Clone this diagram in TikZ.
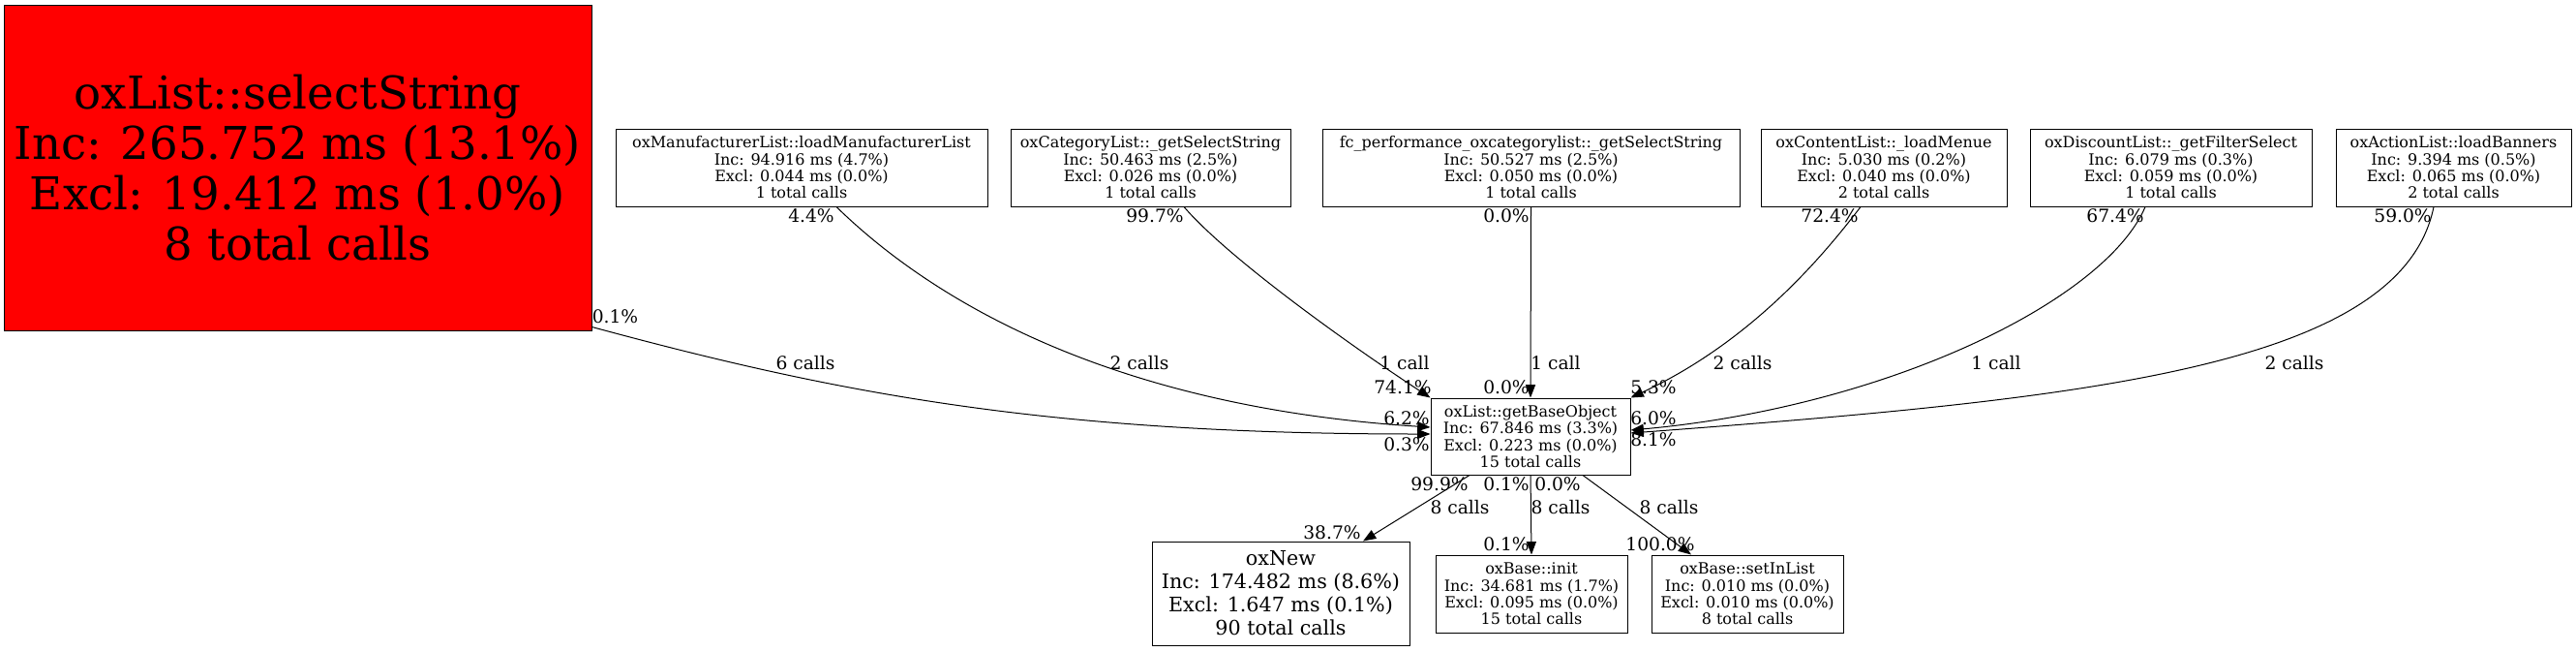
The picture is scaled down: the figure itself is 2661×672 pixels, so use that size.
\documentclass[tikz,border=0pt]{standalone}
\usepackage{fontspec}
\setmainfont{DejaVu Serif}
\usetikzlibrary{arrows.meta,calc}

\tikzset{
  func/.style={draw=black, line width=0.75pt, inner sep=1pt, align=center,
    font=\fontsize{12}{13}\selectfont, minimum height=60pt},
  calls/.style={draw=black, line width=0.75pt, -{Triangle[length=10pt,width=7.5pt]}},
  lbl/.style={inner sep=0pt, anchor=base, font=\fontsize{14}{16}\selectfont},
}

\begin{document}
\begin{tikzpicture}[x=0.75pt, y=-0.75pt]
            \useasboundingbox (0,0) rectangle (2661,672);
            % functions
            \node[func, fill=red, minimum width=455.25pt, minimum height=252pt,
                  font=\fontsize{35}{39}\selectfont] (sel) at (307.5,173)
                {oxList::selectString\\Inc: 265.752 ms (13.1\%)\\Excl: 19.412 ms (1.0\%)\\8 total calls};
            \node[func, minimum width=288pt] (man) at (828,173)
                {oxManufacturerList::loadManufacturerList\\Inc: 94.916 ms (4.7\%)\\Excl: 0.044 ms (0.0\%)\\1 total calls};
            \node[func, minimum width=216.75pt] (cat) at (1188.5,173)
                {oxCategoryList::\_getSelectString\\Inc: 50.463 ms (2.5\%)\\Excl: 0.026 ms (0.0\%)\\1 total calls};
            \node[func, minimum width=323.25pt] (fc) at (1581.5,173)
                {fc\_performance\_oxcategorylist::\_getSelectString\\Inc: 50.527 ms (2.5\%)\\Excl: 0.050 ms (0.0\%)\\1 total calls};
            \node[func, minimum width=190.5pt] (cont) at (1946,173)
                {oxContentList::\_loadMenue\\Inc: 5.030 ms (0.2\%)\\Excl: 0.040 ms (0.0\%)\\2 total calls};
            \node[func, minimum width=218.25pt] (disc) at (2242.5,173)
                {oxDiscountList::\_getFilterSelect\\Inc: 6.079 ms (0.3\%)\\Excl: 0.059 ms (0.0\%)\\1 total calls};
            \node[func, minimum width=182.25pt] (act) at (2534.5,173)
                {oxActionList::loadBanners\\Inc: 9.394 ms (0.5\%)\\Excl: 0.065 ms (0.0\%)\\2 total calls};
            \node[func, minimum width=154.5pt, minimum height=59.25pt] (gbo) at (1581,450.5)
                {oxList::getBaseObject\\Inc: 67.846 ms (3.3\%)\\Excl: 0.223 ms (0.0\%)\\15 total calls};
            \node[func, minimum width=199.5pt, minimum height=80.25pt,
                  font=\fontsize{15.5}{18}\selectfont] (new) at (1323,612.5)
                {oxNew\\Inc: 174.482 ms (8.6\%)\\Excl: 1.647 ms (0.1\%)\\90 total calls};
            \node[func, minimum width=148.5pt] (init) at (1582,613)
                {oxBase::init\\Inc: 34.681 ms (1.7\%)\\Excl: 0.095 ms (0.0\%)\\15 total calls};
            \node[func, minimum width=148.5pt] (set) at (1805,613)
                {oxBase::setInList\\Inc: 0.010 ms (0.0\%)\\Excl: 0.010 ms (0.0\%)\\8 total calls};

            % calls into getBaseObject
            \draw[calls] ($(sel.south east)+(0,-4)$) .. controls (861,405) and (1078,448) .. ($(gbo.west)+(0,-2.5)$);
            \draw[calls] ($(man.south)+(36,0)$) .. controls (965,312) and (1150,420) .. ($(gbo.west)+(0,-9.5)$);
            \draw[calls] ($(cat.south)+(34.5,0)$) .. controls (1270,268) and (1400,360) .. (gbo.north west);
            \draw[calls] (fc.south) -- (gbo.north);
            \draw[calls] ($(cont.south)+(-24,0)$) .. controls (1890,255) and (1815,350) .. (gbo.north east);
            \draw[calls] ($(disc.south)+(-26.5,0)$) .. controls (2175,310) and (1950,420) .. ($(gbo.east)+(0,-6.5)$);
            \draw[calls] ($(act.south)+(-20.5,0)$) .. controls (2480,380) and (2150,412) .. ($(gbo.east)+(0,-3.5)$);
            % calls out of getBaseObject
            \draw[calls] ($(gbo.south)+(-63,0)$) -- ($(new.north)+(85,0)$);
            \draw[calls] (gbo.south) -- (init.north);
            \draw[calls] ($(gbo.south)+(54,0)$) -- ($(set.north)+(-58,0)$);

            % call counts and shares
            \begin{scope}[every node/.style={lbl}]
                \node (l1t) at (635.5,333) {0.1\%};
                \node (l1m) at (832,381) {6 calls};
                \node (l1h) at (1453,465) {0.3\%};
                \node (l2t) at (838,229) {4.4\%};
                \node (l2m) at (1177,381) {2 calls};
                \node (l2h) at (1453,438) {6.2\%};
                \node (l3t) at (1193,229) {99.7\%};
                \node (l3m) at (1451,381) {1 call};
                \node (l3h) at (1449,406) {74.1\%};
                \node (l4t) at (1556,229) {0.0\%};
                \node (l4m) at (1607,381) {1 call};
                \node (l4h) at (1556,406) {0.0\%};
                \node (l5t) at (1890,229) {72.4\%};
                \node (l5m) at (1800,381) {2 calls};
                \node (l5h) at (1708,406) {5.3\%};
                \node (l6t) at (2185,229) {67.4\%};
                \node (l6m) at (2062,381) {1 call};
                \node (l6h) at (1708,438) {6.0\%};
                \node (l7t) at (2482,229) {59.0\%};
                \node (l7m) at (2370,381) {2 calls};
                \node (l7h) at (1708,460) {8.1\%};
                \node (l8t) at (1487,506) {99.9\%};
                \node (l8m) at (1508,530) {8 calls};
                \node (l8h) at (1376,556) {38.7\%};
                \node (l9t) at (1556,506) {0.1\%};
                \node (l9m) at (1612,530) {8 calls};
                \node (l9h) at (1556,568) {0.1\%};
                \node (l10t) at (1609,506) {0.0\%};
                \node (l10m) at (1724,530) {8 calls};
                \node (l10h) at (1715,568) {100.0\%};
            \end{scope}
        \end{tikzpicture}
\end{document}
